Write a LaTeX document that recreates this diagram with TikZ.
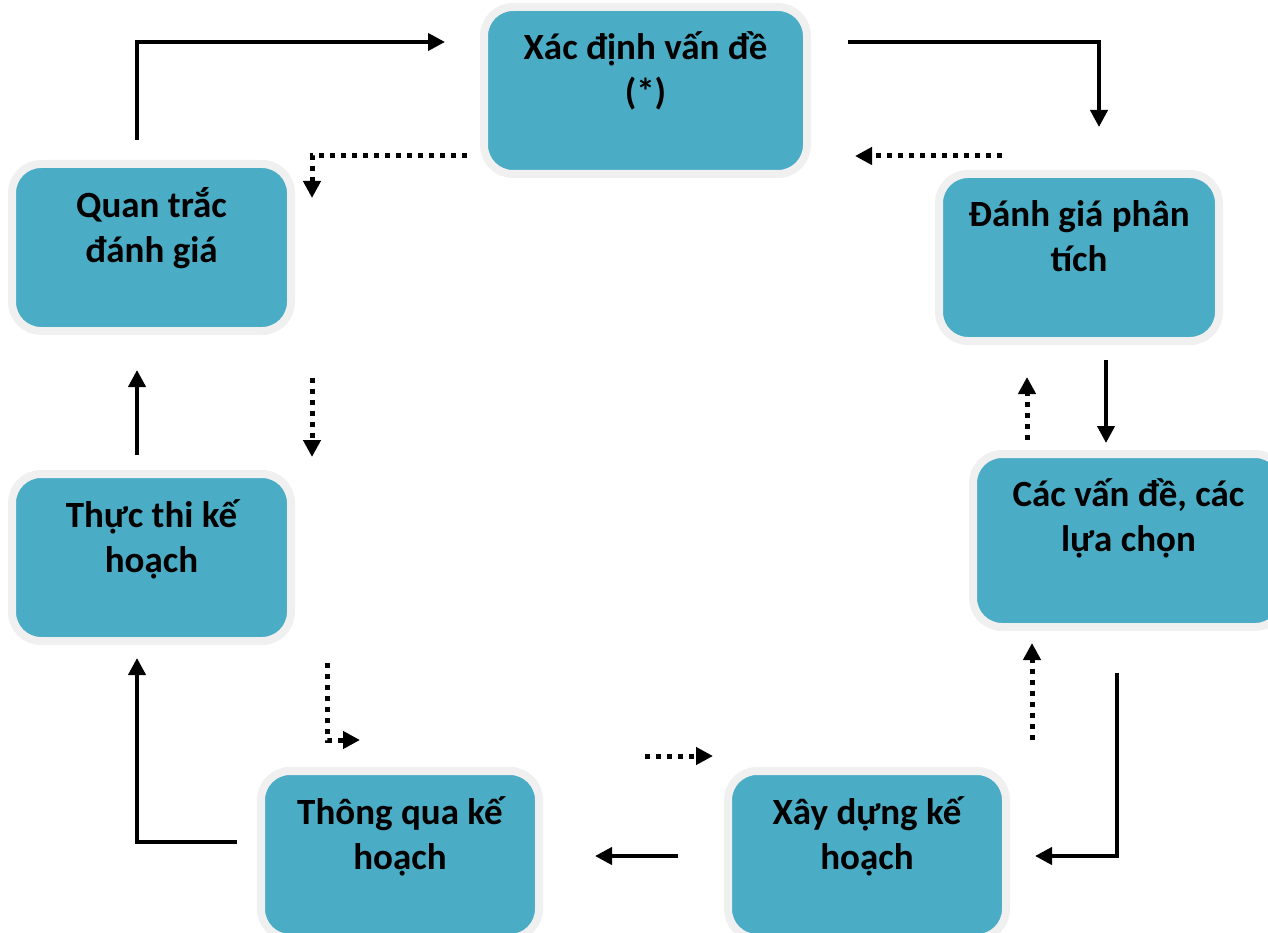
\documentclass[tikz,border=0pt]{standalone}
\usepackage{fontspec}
\setmainfont{Carlito}
\usetikzlibrary{arrows.meta}
\definecolor{boxblue}{HTML}{4BACC6}
\definecolor{boxrim}{HTML}{F0F0F0}
\tikzset{
  box/.style={rectangle, rounded corners=29pt, fill=boxblue, draw=boxrim, line width=8pt, inner sep=0pt},
  lbl/.style={anchor=base, align=center, inner sep=0pt, font=\fontsize{37}{45}\selectfont\bfseries},
  solidarrow/.style={line width=4pt, -{Triangle[length=17pt,width=17pt]}},
  dotarrow/.style={line width=5pt, dash pattern=on 5pt off 6pt, -{Triangle[length=17pt,width=17pt]}},
}
\begin{document}
\begin{tikzpicture}[x=1pt,y=-1pt]
\useasboundingbox (0,0) rectangle (1268,933);
% boxes
\node[box, minimum width=323pt, minimum height=167pt] (xd) at (645.5,90.5) {};
\node[box, minimum width=279pt, minimum height=167pt] (qt) at (151.5,247.5) {};
\node[box, minimum width=280pt, minimum height=167pt] (dg) at (1079,257.5) {};
\node[box, minimum width=311pt, minimum height=173pt] (cv) at (1128.5,540.5) {};
\node[box, minimum width=279pt, minimum height=167pt] (tt) at (151.5,557.5) {};
\node[box, minimum width=278pt, minimum height=167pt] (tq) at (400,854.5) {};
\node[box, minimum width=278pt, minimum height=167pt] (xy) at (867,854.5) {};
% labels (base anchor = baseline of the last line)
\node[lbl] (xdt) at (645.5,105) {Xác định vấn đề\\(*)};
\node[lbl] (qtt) at (151.5,262) {Quan trắc\\đánh giá};
\node[lbl] (dgt) at (1079,272) {Đánh giá phân\\tích};
\node[lbl] (cvt) at (1128.5,551) {Các vấn đề, các\\lựa chọn};
\node[lbl] (ttt) at (151.5,572) {Thực thi kế\\hoạch};
\node[lbl] (tqt) at (400,869) {Thông qua kế\\hoạch};
\node[lbl] (xyt) at (867,869) {Xây dựng kế\\hoạch};
% coordinates for solid arrows
\coordinate (a1) at (137,140); \coordinate (a2) at (137,42); \coordinate (a3) at (445,42);
\coordinate (b1) at (848,42); \coordinate (b2) at (1099,42); \coordinate (b3) at (1099,127);
\coordinate (c1) at (1106,360); \coordinate (c2) at (1106,443);
\coordinate (d1) at (1117,673); \coordinate (d2) at (1117,856); \coordinate (d3) at (1035,856);
\coordinate (e1) at (678,856); \coordinate (e2) at (595,856);
\coordinate (f1) at (237,842); \coordinate (f2) at (137,842); \coordinate (f3) at (137,658);
\coordinate (g1) at (137,455); \coordinate (g2) at (137,370);
\draw[solidarrow] (a1) -- (a2) -- (a3);
\draw[solidarrow] (b1) -- (b2) -- (b3);
\draw[solidarrow] (c1) -- (c2);
\draw[solidarrow] (d1) -- (d2) -- (d3);
\draw[solidarrow] (e1) -- (e2);
\draw[solidarrow] (f1) -- (f2) -- (f3);
\draw[solidarrow] (g1) -- (g2);
% coordinates for dotted arrows
\coordinate (h1) at (1002,156); \coordinate (h2) at (855,156);
\coordinate (i1) at (467,156); \coordinate (i2) at (312,156); \coordinate (i3) at (312,198);
\coordinate (j1) at (312,378); \coordinate (j2) at (312,457);
\coordinate (k1) at (327,663); \coordinate (k2) at (327,740); \coordinate (k3) at (360,740);
\coordinate (l1) at (645,756); \coordinate (l2) at (713,756);
\coordinate (m1) at (1032,740); \coordinate (m2) at (1032,643);
\coordinate (n1) at (1027,440); \coordinate (n2) at (1027,377);
\draw[dotarrow] (h1) -- (h2);
\draw[dotarrow] (i1) -- (i2) -- (i3);
\draw[dotarrow] (j1) -- (j2);
\draw[dotarrow] (k1) -- (k2) -- (k3);
\draw[dotarrow] (l1) -- (l2);
\draw[dotarrow] (m1) -- (m2);
\draw[dotarrow] (n1) -- (n2);
\end{tikzpicture}
\end{document}
